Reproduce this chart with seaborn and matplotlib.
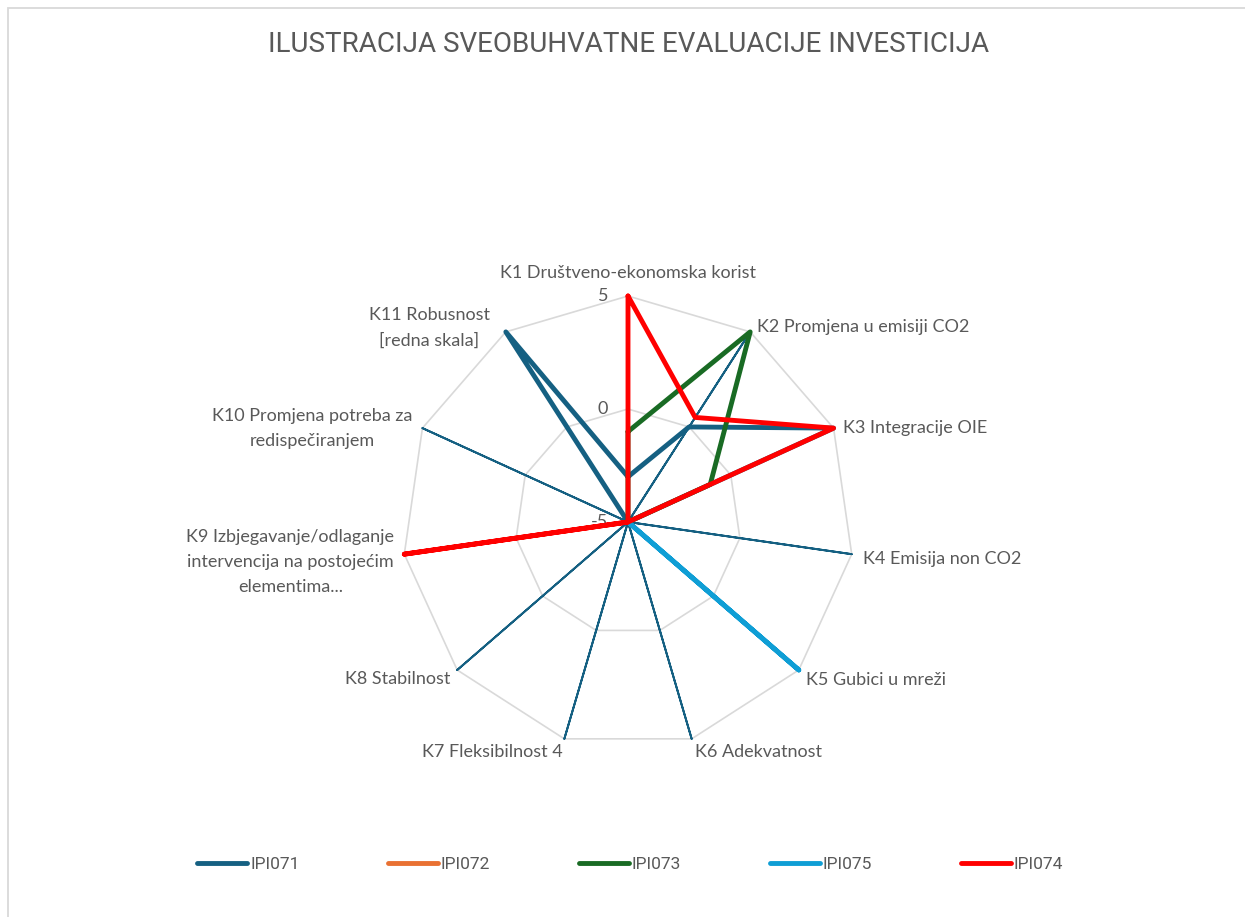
import numpy as np
import pandas as pd
import matplotlib
matplotlib.use("Agg")
import matplotlib.pyplot as plt
from matplotlib.patches import Rectangle
import seaborn as sns

# Criteria shown on the radar axes
categories = [
    "K1 Društveno-ekonomska korist",
    "K2 Promjena u emisiji CO2",
    "K3 Integracije OIE",
    "K4 Emisija non CO2",
    "K5 Gubici u mreži",
    "K6 Adekvatnost",
    "K7 Fleksibilnost 4",
    "K8 Stabilnost",
    "K9 Izbjegavanje/odlaganje\nintervencija na postojećim\nelementima...",
    "K10 Promjena potreba za\nredispečiranjem",
    "K11 Robusnost\n[redna skala]",
]

# Scores per investment (scale -5 .. 5)
ipi071 = [-3, 0, 5, -5, -5, -5, -5, -5, -5, -5, 5]
ipi072 = [-5, -5, -5, -5, -5, -5, -5, -5, -5, -5, -5]
ipi073 = [-1, 5, -1, -5, -5, -5, -5, -5, -5, -5, -5]
ipi075 = [-5, -5, -5, -5, 5, -5, -5, -5, -5, -5, -5]
ipi074 = [5, 0.5, 5, -5, -5, -5, -5, -5, 5, -5, -5]

# Further series drawn with thin lines and no legend entry
thin_a = [-5, 5, -5, 5, -5, 5, -5, 5, -5, 5, -5]
thin_b = [-5, -5, -5, -5, -5, -5, 5, -5, -5, -5, -5]

ring_values = [0, 5]
tick_values = [5, 0, -5]
tick_labels = ["5", "0", "-5"]

TEXT = "#595959"
GRID = "#D9D9D9"
LABEL_FONT = ["Lato", "DejaVu Sans"]
NARROW_FONT = ["Liberation Sans Narrow", "Roboto", "DejaVu Sans"]

sns.set_theme(style="white")
plt.rcParams["font.family"] = LABEL_FONT

W, H = 1245, 917
fig = plt.figure(figsize=(W / 100, H / 100), dpi=100)

# chart frame
fig.patches.append(Rectangle((8 / W, -0.2), 1.5, 1.2 - 8 / H, transform=fig.transFigure,
                             fill=False, edgecolor=GRID, linewidth=1.3))

cx, cy, R = 628, 522, 226
ax = fig.add_axes([(cx - R) / W, (H - cy - R) / H, 2 * R / W, 2 * R / H], projection="polar")
ax.set_theta_offset(np.pi / 2)
ax.set_theta_direction(-1)
ax.grid(False)
ax.spines["polar"].set_visible(False)
ax.patch.set_alpha(0)

n = len(categories)
theta = np.linspace(0, 2 * np.pi, n, endpoint=False)
theta_closed = np.append(theta, 2 * np.pi)


def closed(vals):
    return list(vals) + [vals[0]]


# polygonal grid rings
for rv in ring_values:
    ax.plot(theta_closed, [rv] * (n + 1), color=GRID, linewidth=1.2, zorder=1, clip_on=False)

series = [
    (None, thin_a, "#156082", 1.4),
    (None, thin_b, "#156082", 1.4),
    ("IPI071", ipi071, "#156082", 3.5),
    ("IPI072", ipi072, "#E97132", 3.5),
    ("IPI073", ipi073, "#196B24", 3.5),
    ("IPI075", ipi075, "#0F9ED5", 3.5),
    ("IPI074", ipi074, "#FF0000", 3.5),
]

handles, labels = [], []
for i, (name, vals, color, lw) in enumerate(series):
    df = pd.DataFrame({"theta": theta_closed, "value": closed(vals)})
    sns.lineplot(data=df, x="theta", y="value", sort=False, estimator=None, ax=ax,
                 color=color, linewidth=lw, legend=False, clip_on=False, zorder=2 + i,
                 solid_joinstyle="round", solid_capstyle="round")
    line = ax.lines[-1]
    if name is not None:
        line.set_label(name)
        handles.append(line)
        labels.append(name)
    else:
        line.set_label("_nolegend_")

ax.set_ylim(-5, 5)
ax.set_xticks([])
ax.set_yticks([])
ax.set_xlabel("")
ax.set_ylabel("")

# value labels along the first axis
for tv, tl in zip(tick_values, tick_labels):
    ax.annotate(tl, xy=(0, tv), xytext=(-20, 0), textcoords="offset pixels",
                ha="right", va="center", fontsize=13, color=TEXT, annotation_clip=False)

# category labels around the outer ring
label_offsets = [
    (0, 23, "center"),
    (7, 5, "left"),
    (9, 0, "left"),
    (11, -5, "left"),
    (7, -10, "left"),
    (3, -13, "left"),
    (-2, -13, "right"),
    (-7, -9, "right"),
    (-10, -8, "right"),
    (-10, 0, "right"),
    (-16, 4, "right"),
]
for t, cat, (dx, dy, ha) in zip(theta, categories, label_offsets):
    ax.annotate(cat, xy=(t, 5), xytext=(dx, dy), textcoords="offset pixels",
                ha=ha, va="center", multialignment="center", fontsize=13,
                color=TEXT, linespacing=1.7, annotation_clip=False)

fig.text(0.505, 1 - 45 / H, "ILUSTRACIJA SVEOBUHVATNE EVALUACIJE INVESTICIJA",
         ha="center", va="center", fontsize=20, color=TEXT, family=NARROW_FONT)

leg = fig.legend(handles, labels, loc="center", bbox_to_anchor=(0.506, 1 - 864 / H),
                 ncol=5, frameon=False, handlelength=2.9, handletextpad=0.15,
                 columnspacing=5.1, prop={"family": NARROW_FONT, "size": 12.5})
for txt in leg.get_texts():
    txt.set_color(TEXT)

fig.savefig("out.png", dpi=100, facecolor="white")
